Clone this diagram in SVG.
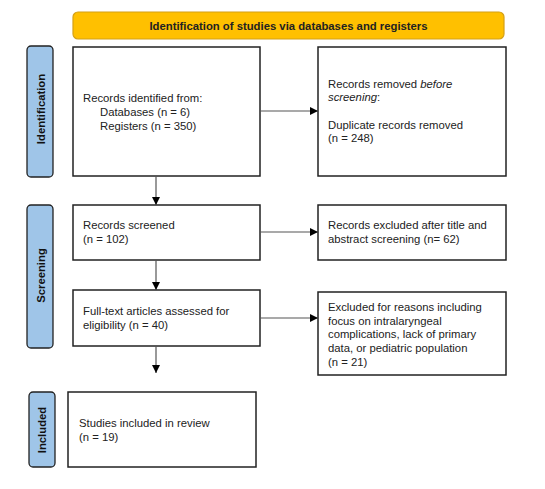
<svg xmlns="http://www.w3.org/2000/svg" width="545" height="489" viewBox="0 0 545 489">
<style>
.box{fill:#fff;stroke:#222;stroke-width:1.5}
.side{fill:#9fc5e8;stroke:#222;stroke-width:1.3}
.t{font-family:"Liberation Sans",Arial,sans-serif;font-size:11.3px;fill:#222}
.sl{font-family:"Liberation Sans",Arial,sans-serif;font-size:11.3px;font-weight:bold;fill:#111;text-anchor:middle}
.conn line{stroke:#555;stroke-width:1.2;marker-end:url(#ah)}
</style>
<defs>
<marker id="ah" viewBox="0 0 10 10" refX="10" refY="5" markerWidth="8" markerHeight="8" markerUnits="userSpaceOnUse" orient="auto">
<path d="M0,0 L10,5 L0,10 z" fill="#000"/>
</marker>
</defs>
<rect width="545" height="489" fill="#fff"/>
<g id="header">
<rect x="73" y="12" width="431" height="27" rx="5" fill="#ffc000" stroke="#d4a017" stroke-width="1.2"/>
<text x="288.5" y="29.5" class="t" font-weight="bold" text-anchor="middle" fill="#111">Identification of studies via databases and registers</text>
</g>
<g id="side-identification">
<rect x="27" y="46" width="26" height="131" rx="4" class="side"/>
<text class="sl" transform="translate(45,109) rotate(-90)">Identification</text>
</g>
<g id="side-screening">
<rect x="27" y="205" width="26" height="143" rx="4" class="side"/>
<text class="sl" transform="translate(45,275.5) rotate(-90)">Screening</text>
</g>
<g id="side-included">
<rect x="29" y="392" width="26" height="75" rx="4" class="side"/>
<text class="sl" transform="translate(46,430) rotate(-90)">Included</text>
</g>
<g id="records-identified">
<rect x="73" y="47" width="187" height="129" class="box"/>
<text class="t" x="83" y="102">Records identified from:</text>
<text class="t" x="100" y="116">Databases (n = 6)</text>
<text class="t" x="100" y="130">Registers (n = 350)</text>
</g>
<g id="records-removed">
<rect x="318" y="47" width="188" height="129" class="box"/>
<text class="t" x="328" y="88">Records removed <tspan font-style="italic">before</tspan></text>
<text class="t" x="328" y="101"><tspan font-style="italic">screening</tspan>:</text>
<text class="t" x="328" y="129">Duplicate records removed</text>
<text class="t" x="328" y="142">(n = 248)</text>
</g>
<g id="records-screened">
<rect x="73" y="205" width="187" height="55" class="box"/>
<text class="t" x="83" y="229">Records screened</text>
<text class="t" x="83" y="243">(n = 102)</text>
</g>
<g id="records-excluded">
<rect x="318" y="205" width="188" height="55" class="box"/>
<text class="t" x="328" y="229">Records excluded after title and</text>
<text class="t" x="328" y="243">abstract screening (n= 62)</text>
</g>
<g id="full-text">
<rect x="73" y="290" width="187" height="56" class="box"/>
<text class="t" x="83" y="315">Full-text articles assessed for</text>
<text class="t" x="83" y="329">eligibility (n = 40)</text>
</g>
<g id="excluded-reasons">
<rect x="318" y="292" width="188" height="83" class="box"/>
<text class="t" x="328" y="311">Excluded for reasons including</text>
<text class="t" x="328" y="325">focus on intralaryngeal</text>
<text class="t" x="328" y="338">complications, lack of primary</text>
<text class="t" x="328" y="352">data, or pediatric population</text>
<text class="t" x="328" y="366">(n = 21)</text>
</g>
<g id="studies-included">
<rect x="68" y="392" width="188" height="75" class="box"/>
<text class="t" x="79" y="427">Studies included in review</text>
<text class="t" x="79" y="441">(n = 19)</text>
</g>
<g id="connectors" class="conn">
<line x1="260" y1="111" x2="318" y2="111"/>
<line x1="156" y1="176" x2="156" y2="205"/>
<line x1="260" y1="232" x2="318" y2="232"/>
<line x1="156" y1="260" x2="156" y2="290"/>
<line x1="260" y1="318" x2="318" y2="318"/>
<line x1="156" y1="346" x2="156" y2="373"/>
</g>
</svg>
